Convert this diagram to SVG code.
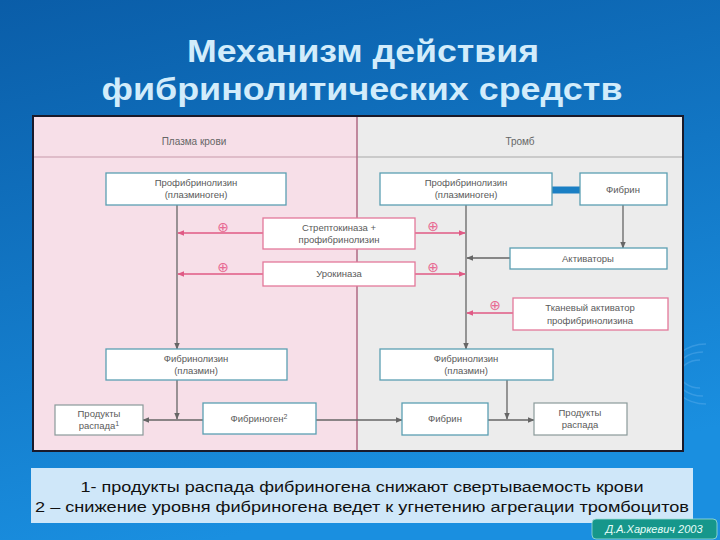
<svg xmlns="http://www.w3.org/2000/svg" width="720" height="540" viewBox="0 0 720 540">
<defs>
<linearGradient id="bg" x1="0" y1="0" x2="0.3" y2="1">
<stop offset="0" stop-color="#0a5da8"/>
<stop offset="1" stop-color="#1a8fe0"/>
</linearGradient>
<marker id="ag" viewBox="0 0 10 10" refX="9" refY="5" markerWidth="7" markerHeight="7" markerUnits="userSpaceOnUse" orient="auto"><path d="M0,1 L10,5 L0,9 z" fill="#666"/></marker>
<marker id="ap" viewBox="0 0 10 10" refX="9" refY="5" markerWidth="7" markerHeight="7" markerUnits="userSpaceOnUse" orient="auto"><path d="M0,1 L10,5 L0,9 z" fill="#e05a85"/></marker>
<style>
.box{fill:#ffffff;stroke:#5b9fb2;stroke-width:1.3}
.pbox{fill:#ffffff;stroke:#e3789a;stroke-width:1.3}
.gbox{fill:#ffffff;stroke:#8a9a9a;stroke-width:1.2}
.t{font-family:"Liberation Sans",Arial,sans-serif;font-size:9.5px;fill:#5a5a5a;text-anchor:middle}
.h{font-family:"Liberation Sans",Arial,sans-serif;font-size:10px;fill:#666;text-anchor:middle}
.cg{stroke:#666;stroke-width:1.3;fill:none}
.cp{stroke:#e05a85;stroke-width:1.5;fill:none}
.plus{font-family:"DejaVu Sans",sans-serif;font-size:14px;fill:#e86a92;text-anchor:middle}
.title{font-family:"Liberation Sans",Arial,sans-serif;font-size:31px;font-weight:bold;fill:#d2ecfb;text-anchor:middle}
.cap{font-family:"Liberation Sans",Arial,sans-serif;font-size:15.5px;fill:#111;text-anchor:middle}
</style>
</defs>
<rect x="0" y="0" width="720" height="540" fill="url(#bg)"/>
<g fill="none" stroke="#6fb8f0" stroke-opacity="0.35" stroke-width="1.5">
<path d="M700,360 a20,14 0 1,0 0,28"/>
<path d="M703,352 a28,22 0 1,0 0,44"/>
<path d="M706,344 a36,30 0 1,0 0,60"/>
</g>
<g id="title">
<text class="title" x="363" y="62" textLength="352" lengthAdjust="spacingAndGlyphs">Механизм действия</text>
<text class="title" x="362" y="100" textLength="521" lengthAdjust="spacingAndGlyphs">фибринолитических средств</text>
</g>
<g id="frame">
<rect x="32" y="115" width="652" height="337" fill="#1a1a2a"/>
<rect x="34" y="117" width="323" height="333" fill="#f7dfe8"/>
<rect x="357" y="117" width="325" height="333" fill="#ececec"/>
<line x1="34" y1="157" x2="357" y2="157" stroke="#c89aaa" stroke-width="1.2"/>
<line x1="357" y1="157" x2="682" y2="157" stroke="#a8a8a8" stroke-width="1.2"/>
<line x1="357" y1="117" x2="357" y2="450" stroke="#b06a85" stroke-width="1.5"/>
<text class="h" x="194" y="145">Плазма крови</text>
<text class="h" x="520" y="145">Тромб</text>
</g>
<g id="connectors">
<line class="cg" x1="177" y1="205" x2="177" y2="349" marker-end="url(#ag)"/>
<line class="cg" x1="466" y1="205" x2="466" y2="349" marker-end="url(#ag)"/>
<line class="cp" x1="263" y1="233" x2="178" y2="233" marker-end="url(#ap)"/>
<line class="cp" x1="263" y1="274" x2="178" y2="274" marker-end="url(#ap)"/>
<line class="cp" x1="415" y1="233" x2="465" y2="233" marker-end="url(#ap)"/>
<line class="cp" x1="415" y1="274" x2="465" y2="274" marker-end="url(#ap)"/>
<line class="cp" x1="513" y1="313" x2="467" y2="313" marker-end="url(#ap)"/>
<line class="cg" x1="510" y1="258" x2="467" y2="258" marker-end="url(#ag)"/>
<line class="cg" x1="623" y1="205" x2="623" y2="248" marker-end="url(#ag)"/>
<line x1="552" y1="190" x2="580" y2="190" stroke="#1a7fc4" stroke-width="7"/>
<line class="cg" x1="177" y1="380" x2="177" y2="419" marker-end="url(#ag)"/>
<line class="cg" x1="203" y1="420" x2="143" y2="420" marker-end="url(#ag)"/>
<line class="cg" x1="316" y1="420" x2="402" y2="420" marker-end="url(#ag)"/>
<line class="cg" x1="507" y1="380" x2="507" y2="419" marker-end="url(#ag)"/>
<line class="cg" x1="488" y1="420" x2="534" y2="420" marker-end="url(#ag)"/>
<text class="plus" x="223" y="232">⊕</text>
<text class="plus" x="223" y="272">⊕</text>
<text class="plus" x="433" y="231">⊕</text>
<text class="plus" x="433" y="272">⊕</text>
<text class="plus" x="495" y="310">⊕</text>
</g>
<g id="n-plasminogen-l"><rect class="box" x="106" y="173" width="180" height="32"/><text class="t" x="196" y="186">Профибринолизин</text><text class="t" x="196" y="198">(плазминоген)</text></g>
<g id="n-plasminogen-r"><rect class="box" x="380" y="173" width="172" height="32"/><text class="t" x="466" y="186">Профибринолизин</text><text class="t" x="466" y="198">(плазминоген)</text></g>
<g id="n-fibrin-top"><rect class="box" x="580" y="173" width="87" height="32"/><text class="t" x="623" y="193">Фибрин</text></g>
<g id="n-strepto"><rect class="pbox" x="263" y="218" width="152" height="31"/><text class="t" x="339" y="231">Стрептокиназа +</text><text class="t" x="339" y="243">профибринолизин</text></g>
<g id="n-uro"><rect class="pbox" x="263" y="262" width="152" height="24"/><text class="t" x="339" y="277">Урокиназа</text></g>
<g id="n-activators"><rect class="box" x="510" y="248" width="157" height="21"/><text class="t" x="588" y="262">Активаторы</text></g>
<g id="n-tpa"><rect class="pbox" x="513" y="298" width="155" height="32"/><text class="t" x="590" y="311">Тканевый активатор</text><text class="t" x="590" y="324">профибринолизина</text></g>
<g id="n-plasmin-l"><rect class="box" x="106" y="349" width="181" height="31"/><text class="t" x="196" y="362">Фибринолизин</text><text class="t" x="196" y="374">(плазмин)</text></g>
<g id="n-plasmin-r"><rect class="box" x="380" y="349" width="173" height="31"/><text class="t" x="466" y="362">Фибринолизин</text><text class="t" x="466" y="374">(плазмин)</text></g>
<g id="n-products-l"><rect class="gbox" x="55" y="405" width="88" height="30"/><text class="t" x="99" y="417">Продукты</text><text class="t" x="99" y="429">распада<tspan font-size="7" dy="-3">1</tspan></text></g>
<g id="n-fibrinogen"><rect class="box" x="203" y="403" width="113" height="31"/><text class="t" x="259" y="422">Фибриноген<tspan font-size="7" dy="-3">2</tspan></text></g>
<g id="n-fibrin-bot"><rect class="box" x="402" y="403" width="86" height="32"/><text class="t" x="445" y="422">Фибрин</text></g>
<g id="n-products-r"><rect class="gbox" x="534" y="403" width="93" height="32"/><text class="t" x="580" y="416">Продукты</text><text class="t" x="580" y="428">распада</text></g>
<g id="caption">
<rect x="31" y="468" width="662" height="55" fill="#cfe7f9"/>
<text class="cap" x="362" y="492" textLength="563" lengthAdjust="spacingAndGlyphs">1- продукты распада фибриногена снижают свертываемость крови</text>
<text class="cap" x="362" y="512" textLength="654" lengthAdjust="spacingAndGlyphs">2 – снижение уровня фибриногена ведет к угнетению агрегации тромбоцитов</text>
</g>
<g id="author">
<rect x="592" y="519" width="125" height="20" rx="4" fill="#16978b" stroke="#9fe0d8" stroke-width="0.8"/>
<text x="654" y="533" font-family="Liberation Sans, Arial, sans-serif" font-size="11" font-style="italic" fill="#e8fffa" text-anchor="middle">Д.А.Харкевич 2003</text>
</g>
</svg>
